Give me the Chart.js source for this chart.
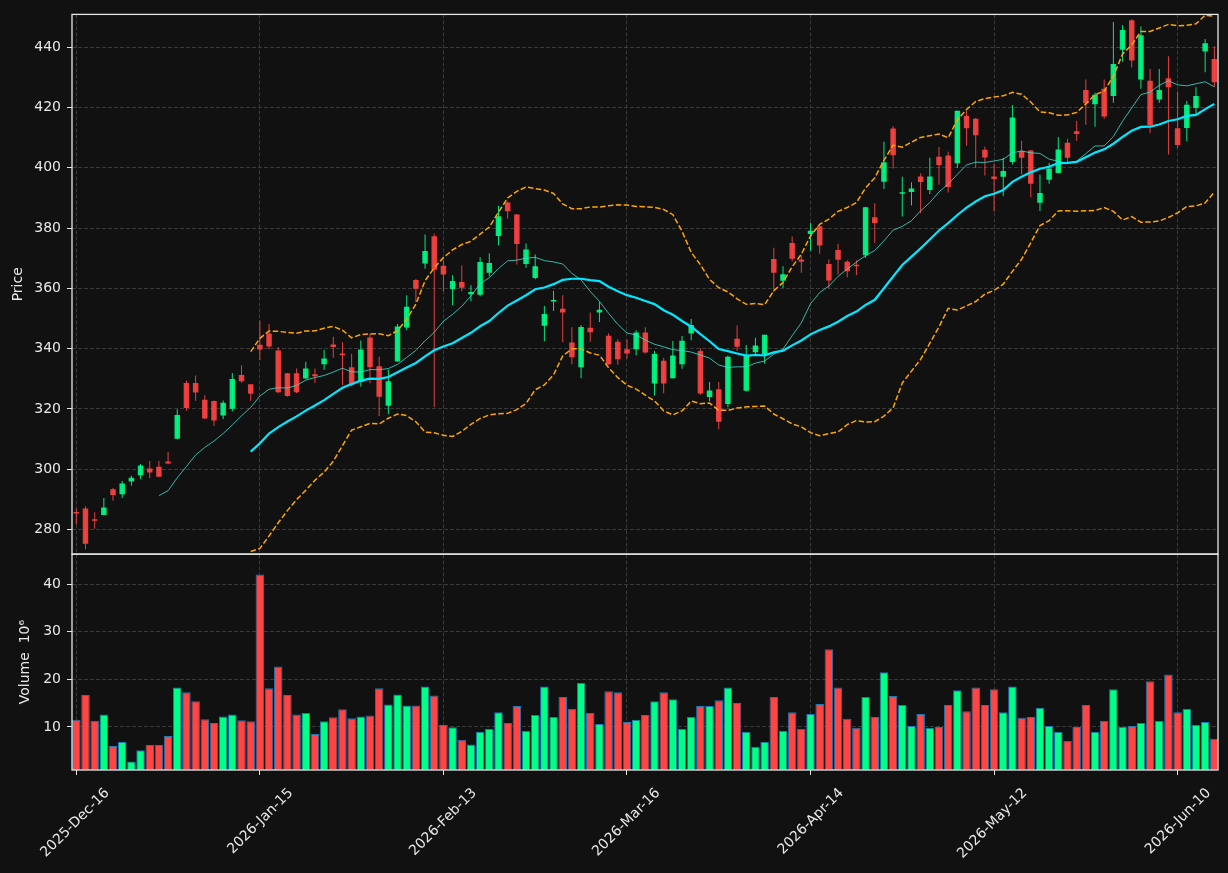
<!DOCTYPE html>
<html>
<head>
<meta charset="utf-8">
<title>Price and volume</title>
<script src="https://cdn.jsdelivr.net/npm/chart.js@4.4.1/dist/chart.umd.min.js"></script>
<style>
  html, body { margin: 0; padding: 0; background: #111111; }
  canvas { display: block; }
</style>
</head>
<body>
<canvas id="chart" width="1228" height="873"></canvas>
<script>
// x axis: trading-day index, one label every 20 sessions
const tickLabels = ['2025-Dec-16', '2026-Jan-15', '2026-Feb-13', '2026-Mar-16', '2026-Apr-14', '2026-May-12', '2026-Jun-10'];
const tickStep = 20;
const priceTicks = [280, 300, 320, 340, 360, 380, 400, 420, 440];
const volumeTicks = [10, 20, 30, 40];

const opens = [
  285.7, 286.9, 283.4, 284.8, 293.3, 291.7, 295.9, 298.0, 300.2, 300.8,
  302.5, 310.1, 328.6, 328.6, 323.0, 322.6, 317.8, 320.0, 331.2, 328.2,
  341.3, 345.0, 339.4, 331.8, 331.8, 330.1, 331.5, 334.8, 341.4, 338.4,
  333.8, 328.9, 343.7, 334.1, 321.0, 335.7, 347.0, 362.8, 368.2, 377.3,
  367.5, 359.8, 362.1, 358.0, 357.9, 365.2, 377.4, 388.5, 384.5, 368.1,
  363.4, 347.6, 355.6, 353.2, 342.0, 333.8, 346.9, 352.0, 344.3, 342.3,
  339.8, 339.8, 345.3, 328.4, 336.0, 330.2, 334.8, 345.0, 339.2, 323.9,
  326.5, 321.6, 343.3, 326.0, 338.8, 338.2, 369.7, 362.5, 375.0, 369.6,
  378.0, 380.6, 368.1, 372.7, 368.8, 367.6, 371.0, 383.6, 395.4, 413.0,
  391.4, 392.0, 397.1, 392.6, 403.7, 404.1, 401.5, 417.2, 416.3, 406.0,
  397.1, 397.0, 401.9, 405.6, 405.7, 388.4, 396.0, 398.3, 408.3, 412.1,
  425.8, 421.1, 426.2, 423.8, 439.2, 449.0, 429.3, 428.9, 422.7, 429.7,
  413.1, 413.2, 419.8, 438.6, 436.1
];
const highs = [
  286.9, 287.7, 285.7, 290.4, 293.7, 296.1, 297.8, 301.7, 302.7, 302.7,
  305.7, 319.9, 329.4, 331.1, 324.5, 322.8, 322.8, 331.9, 334.4, 328.2,
  349.3, 348.2, 340.5, 331.9, 333.4, 335.6, 333.4, 339.5, 343.9, 342.1,
  338.3, 342.7, 345.0, 337.3, 333.0, 348.2, 357.7, 363.1, 377.9, 378.1,
  369.3, 364.3, 367.6, 361.0, 370.3, 371.6, 387.4, 388.7, 384.7, 374.9,
  371.2, 354.1, 359.2, 357.7, 347.1, 347.8, 351.9, 355.5, 345.1, 343.0,
  343.0, 346.1, 347.1, 339.2, 337.0, 342.5, 344.2, 349.8, 340.1, 328.9,
  328.9, 337.7, 347.7, 341.2, 343.6, 344.6, 373.5, 367.3, 377.2, 370.9,
  381.7, 380.9, 369.6, 374.8, 369.3, 369.3, 387.1, 388.2, 408.6, 413.9,
  397.0, 395.2, 398.1, 403.3, 406.9, 405.3, 418.9, 418.9, 416.5, 407.0,
  401.4, 403.3, 420.8, 409.0, 405.9, 397.8, 401.6, 410.2, 409.6, 415.6,
  429.3, 424.9, 429.3, 448.4, 447.3, 449.3, 446.9, 432.8, 432.8, 437.0,
  425.3, 422.2, 426.7, 442.7, 440.3
];
const lows = [
  281.6, 273.4, 280.2, 284.8, 289.5, 290.4, 294.5, 296.7, 297.0, 297.5,
  301.6, 309.9, 319.4, 322.7, 316.6, 314.3, 316.6, 319.2, 328.7, 322.7,
  336.2, 339.8, 325.3, 324.1, 325.3, 329.9, 328.6, 333.0, 337.0, 327.8,
  327.4, 327.4, 328.5, 317.6, 318.2, 335.7, 346.1, 355.5, 366.5, 320.6,
  359.1, 354.4, 359.0, 355.7, 357.4, 364.0, 374.2, 383.2, 367.9, 366.8,
  363.0, 342.4, 352.5, 342.1, 334.8, 330.2, 342.3, 348.8, 334.6, 334.6,
  336.7, 337.7, 338.4, 324.4, 325.2, 330.2, 333.3, 342.8, 324.7, 322.5,
  313.2, 320.5, 339.2, 325.8, 337.7, 335.0, 358.8, 360.1, 369.0, 365.2,
  372.5, 371.5, 360.0, 364.6, 363.7, 364.4, 370.1, 375.0, 393.0, 399.8,
  383.8, 387.5, 384.9, 391.3, 394.4, 391.8, 399.9, 407.3, 399.9, 397.4,
  385.5, 390.6, 401.1, 397.8, 390.1, 385.7, 394.7, 398.1, 401.6, 409.0,
  414.3, 413.6, 416.3, 421.6, 435.2, 433.3, 426.2, 411.5, 421.6, 404.4,
  406.6, 408.8, 417.6, 431.7, 426.9
];
const closes = [
  285.3, 275.2, 282.9, 287.3, 291.4, 295.2, 297.1, 301.2, 298.9, 297.5,
  301.9, 318.0, 320.3, 325.4, 316.8, 316.1, 322.0, 329.9, 329.2, 325.0,
  339.7, 340.7, 325.5, 324.3, 325.5, 333.4, 330.8, 336.7, 340.5, 337.8,
  327.8, 339.7, 333.8, 324.0, 329.2, 347.3, 353.9, 359.9, 372.4, 366.2,
  364.6, 362.4, 360.2, 358.8, 368.7, 368.4, 383.9, 385.6, 374.7, 372.9,
  367.3, 351.5, 355.8, 352.0, 337.1, 347.2, 345.4, 352.9, 334.8, 336.5,
  338.4, 345.3, 338.7, 338.2, 328.4, 337.7, 342.6, 347.8, 325.1, 326.1,
  315.7, 337.3, 340.6, 337.9, 341.0, 344.6, 365.2, 364.7, 369.8, 368.8,
  379.1, 374.2, 362.6, 369.5, 365.7, 367.3, 386.9, 381.7, 401.8, 404.2,
  391.6, 393.1, 395.3, 397.1, 400.9, 393.6, 418.9, 413.1, 410.8, 403.4,
  396.3, 398.9, 416.7, 403.3, 394.7, 391.6, 399.8, 406.1, 403.3, 411.2,
  421.4, 424.2, 417.0, 434.4, 445.7, 435.6, 444.0, 414.2, 425.8, 426.7,
  407.6, 420.9, 423.8, 441.3, 428.4
];
// volume in millions of shares
const volumes = [
  11.5, 16.7, 11.3, 12.6, 6.0, 6.8, 2.7, 5.1, 6.2, 6.2,
  8.1, 18.3, 17.3, 15.4, 11.6, 10.8, 12.2, 12.6, 11.4, 11.2,
  42.0, 18.1, 22.7, 16.7, 12.6, 12.9, 8.5, 11.2, 12.0, 13.7,
  11.8, 12.2, 12.4, 18.1, 14.7, 16.8, 14.5, 14.5, 18.5, 16.6,
  10.4, 9.9, 7.3, 6.3, 9.0, 9.6, 13.1, 10.8, 14.4, 9.2,
  12.5, 18.5, 12.1, 16.3, 13.8, 19.2, 12.9, 10.6, 17.5, 17.3,
  11.0, 11.5, 12.5, 15.4, 17.3, 15.8, 9.6, 12.1, 14.4, 14.4,
  15.6, 18.3, 15.0, 9.0, 5.8, 6.9, 16.3, 9.2, 13.1, 9.6,
  12.7, 14.8, 26.3, 18.3, 11.7, 9.8, 16.3, 12.1, 21.5, 16.5,
  14.6, 10.2, 12.7, 9.8, 10.0, 14.6, 17.7, 13.3, 18.3, 14.6,
  17.9, 13.1, 18.5, 11.9, 12.1, 14.0, 10.2, 9.0, 7.1, 10.0,
  14.6, 9.0, 11.3, 17.9, 10.0, 10.2, 10.8, 19.6, 11.3, 21.0,
  13.1, 13.8, 10.4, 11.0, 7.5
];

const textColor = '#e8e8e8';
const frameColor = '#e6e6e6';
const gridColor = '#3a3a3a';
const font = { family: 'DejaVu Sans', size: 14 };

const isUp = closes.map((c, i) => c >= opens[i]);
const candleColors = isUp.map(u => u ? 'rgba(0,255,136,0.9)' : 'rgba(255,68,68,0.9)');
const volumeColors = isUp.map(u => u ? '#00ff88' : '#ff4444');

function rollingMean(values, n) {
  const out = [];
  for (let i = n - 1; i < values.length; i++) {
    const win = values.slice(i - n + 1, i + 1);
    out.push({ x: i, y: win.reduce((a, b) => a + b, 0) / n });
  }
  return out;
}

function bollinger(values, n, k) {
  const upper = [], lower = [];
  for (let i = n - 1; i < values.length; i++) {
    const win = values.slice(i - n + 1, i + 1);
    const mean = win.reduce((a, b) => a + b, 0) / n;
    const sd = Math.sqrt(win.reduce((a, b) => a + (b - mean) * (b - mean), 0) / n);
    upper.push({ x: i, y: mean + k * sd });
    lower.push({ x: i, y: mean - k * sd });
  }
  return { upper, lower };
}

const ma10 = rollingMean(closes, 10);
const ma20 = rollingMean(closes, 20);
const bands = bollinger(closes, 20, 2);

const panelFrames = {
  id: 'panelFrames',
  afterDraw(chart) {
    const { ctx, chartArea } = chart;
    ctx.save();
    ctx.strokeStyle = frameColor;
    ctx.lineWidth = 1.3;
    for (const id of ['y', 'yv']) {
      const s = chart.scales[id];
      ctx.strokeRect(chartArea.left, s.top, chartArea.right - chartArea.left, s.bottom - s.top);
    }
    ctx.restore();
  }
};

const lineStyle = { type: 'line', yAxisID: 'y', pointRadius: 0, tension: 0, fill: false };

new Chart(document.getElementById('chart'), {
  type: 'bar',
  data: {
    datasets: [
      { ...lineStyle, label: 'BB upper', data: bands.upper, borderColor: '#ffa500', borderWidth: 1.5, borderDash: [5.5, 2.4] },
      { ...lineStyle, label: 'BB lower', data: bands.lower, borderColor: '#ffa500', borderWidth: 1.5, borderDash: [5.5, 2.4] },
      { ...lineStyle, label: 'MA20', data: ma20, borderColor: '#00e8ff', borderWidth: 2.2 },
      { ...lineStyle, label: 'MA10', data: ma10, borderColor: 'rgba(64,224,208,0.8)', borderWidth: 1 },
      {
        label: 'body', yAxisID: 'y', grouped: false,
        data: opens.map((o, i) => ({ x: i, y: [o, closes[i]] })),
        backgroundColor: candleColors, barPercentage: 0.6, categoryPercentage: 1, minBarLength: 1.5
      },
      {
        label: 'wick', yAxisID: 'y', grouped: false,
        data: lows.map((l, i) => ({ x: i, y: [l, highs[i]] })),
        backgroundColor: candleColors, barPercentage: 0.2, categoryPercentage: 1, maxBarThickness: 1
      },
      {
        label: 'Volume', yAxisID: 'yv', grouped: false,
        data: volumes.map((v, i) => ({ x: i, y: v })),
        backgroundColor: volumeColors, borderColor: '#1f77b4', borderWidth: 1, borderSkipped: false,
        barPercentage: 0.93, categoryPercentage: 1
      }
    ]
  },
  options: {
    responsive: false,
    animation: false,
    events: [],
    layout: { padding: { top: 10, right: 10, bottom: 0, left: 0 } },
    plugins: { legend: { display: false }, tooltip: { enabled: false } },
    scales: {
      x: {
        type: 'linear', min: -0.47, max: 124.4, offset: false, bounds: 'data',
        afterBuildTicks: s => { s.ticks = tickLabels.map((_, k) => ({ value: k * tickStep })); },
        afterFit: s => { s.height = 103; },
        ticks: {
          color: textColor, font, autoSkip: false, minRotation: 45, maxRotation: 45,
          labelOffset: 31, padding: 10,
          callback: v => tickLabels[Math.round(v / tickStep)]
        },
        grid: { offset: false, color: gridColor, lineWidth: 1, tickColor: frameColor, tickLength: 5, tickBorderDash: [] },
        border: { display: false, dash: [4, 2] }
      },
      yv: {
        type: 'linear', position: 'left', stack: 'panels', stackWeight: 2,
        min: 0.94, max: 46.3,
        afterBuildTicks: s => { s.ticks = volumeTicks.map(v => ({ value: v })); },
        afterFit: s => { s.width = 72; },
        ticks: { color: textColor, font, padding: 6 },
        grid: { color: gridColor, lineWidth: 1, tickColor: frameColor, tickLength: 5, tickBorderDash: [] },
        border: { display: false, dash: [4, 2] },
        title: { display: true, text: 'Volume  10\u2076', color: textColor, font, padding: { top: 16.5, bottom: 0 } }
      },
      y: {
        type: 'linear', position: 'left', stack: 'panels', stackWeight: 5,
        min: 271.8, max: 450.9,
        afterBuildTicks: s => { s.ticks = priceTicks.map(v => ({ value: v })); },
        afterFit: s => { s.width = 72; },
        ticks: { color: textColor, font, padding: 6 },
        grid: { color: gridColor, lineWidth: 1, tickColor: frameColor, tickLength: 5, tickBorderDash: [] },
        border: { display: false, dash: [4, 2] },
        title: { display: true, text: 'Price', color: textColor, font, padding: { top: 9.5, bottom: 0 } }
      }
    }
  },
  plugins: [panelFrames]
});
</script>
</body>
</html>
